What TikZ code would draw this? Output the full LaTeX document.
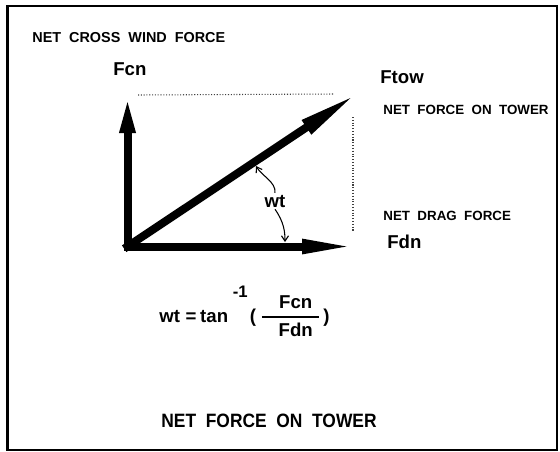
\documentclass[tikz,border=0pt]{standalone}
\usepackage{amsmath}
\usepackage{fontspec}
\setmainfont{Liberation Sans}
\newfontfamily\capsfont{Liberation Sans}[WordSpace=2]
\usetikzlibrary{arrows.meta}

\begin{document}
\begin{tikzpicture}[x=0.02cm, y=-0.02cm,
            lbl/.style={font=\capsfont\bfseries\fontsize{7.6}{9}\selectfont, inner sep=0pt, anchor=base west},
            sym/.style={font=\bfseries\fontsize{10.6}{13}\selectfont, inner sep=0pt, anchor=base west},
            force/.style={line width=0.16cm, line cap=rect},
            guide/.style={densely dotted, line width=0.6pt, black!75},
            angmark/.style={semithick, -{Straight Barb[length=3pt, width=4pt]}},
        ]
        \useasboundingbox (0,0) rectangle (560,451);
        \draw[line width=1.2pt] (7.5,6) rectangle (557,450);
        % common origin and the tips of the three force vectors
        \coordinate (O) at (127.5,246.5);
        \coordinate (fcnTip) at (127.5,95);
        \coordinate (ftowTip) at (358,93);
        \coordinate (fdnTip) at (359,246.5);
        \draw[guide] (138,95) -- (333,94);
        \draw[guide] (353,117) -- (353,232);
        \draw[force, -{Triangle[length=0.76cm, width=0.28cm]}] (O) -- (fcnTip);
        \draw[force, -{Triangle[length=1.24cm, width=0.3cm]}] (O) -- (ftowTip);
        \draw[force, -{Triangle[length=1.14cm, width=0.26cm]}] (O) -- (fdnTip);
        \node[lbl, font=\capsfont\bfseries\fontsize{8.2}{10}\selectfont] (crossLbl) at (32,42.5) {NET CROSS WIND FORCE};
        \node[sym] (fcnLbl) at (113,75) {Fcn};
        \node[sym] (ftowLbl) at (380,83) {Ftow};
        \node[lbl] (towerLbl) at (383,114) {NET FORCE ON TOWER};
        \node[lbl] (dragLbl) at (383,220) {NET DRAG FORCE};
        \node[sym] (fdnLbl) at (387,248) {Fdn};
        % angle wt between Ftow and Fdn
        \coordinate (ftowMark) at (256,166);
        \coordinate (fdnMark) at (285,242);
        \node[sym, anchor=base, inner sep=1pt] (wt) at (275,207) {wt};
        \draw[angmark] (wt.north) .. controls (276,182) and (262,176) .. (ftowMark);
        \draw[angmark] (wt.south) .. controls (284,222) and (285,232) .. (fdnMark);
        \node[sym] (formula) at (159,322)
            {wt\hspace{0.3em}=\hspace{0.2em}tan\hspace{0.25em}\raisebox{2.5ex}{\fontsize{9.5}{10}\selectfont -1}\hspace{0.12em}(\hspace{0.2em}$\genfrac{}{}{1pt}{0}{\text{\hspace{0.9em}Fcn\hspace{0.35em}}}{\text{\hspace{0.9em}Fdn\hspace{0.35em}}}$\hspace{0.1em})};
        \node[sym, anchor=base, font=\capsfont\bfseries\fontsize{11}{13}\selectfont\addfontfeature{FakeStretch=0.9}] (title) at (269,427) {NET FORCE ON TOWER};
    \end{tikzpicture}
\end{document}
